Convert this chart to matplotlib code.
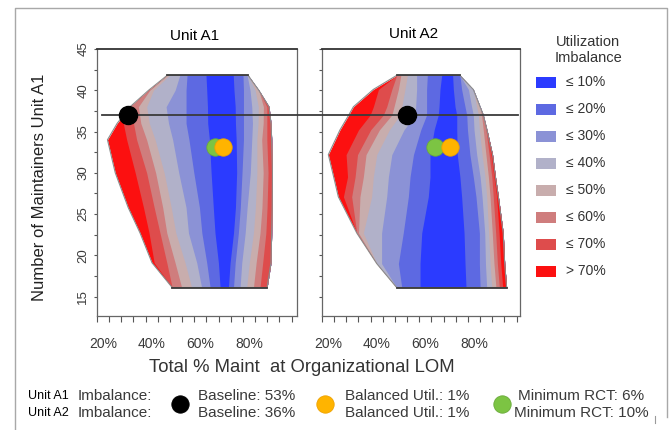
"""
Utilization imbalance contour panels for Unit A1 / Unit A2.
Band edges were read off the original picture row by row.
"""
import numpy as np
import matplotlib.pyplot as plt
from matplotlib.lines import Line2D
from matplotlib.patches import Rectangle
from matplotlib.ticker import FixedLocator

plt.rcParams["font.family"] = ["Liberation Sans", "DejaVu Sans"]

# imbalance classes, blue (balanced) -> red
LEVEL_LABELS = ["\u2264 10%", "\u2264 20%", "\u2264 30%", "\u2264 40%",
                "\u2264 50%", "\u2264 60%", "\u2264 70%", "> 70%"]
LEVEL_COLORS = ["#2b3bff", "#5d69e2", "#8b92d6", "#b1b1c9",
                "#c8adad", "#cf7d7d", "#de4c4c", "#fc1010"]
# class of each band from left hull edge to right hull edge
BAND_CLASS = [7, 6, 5, 4, 3, 2, 1, 0, 1, 2, 3, 4, 5, 6, 7]

# Unit A1: number of maintainers (rows) and band edges (% maint) per row
# columns: hull left, 14 class boundaries, hull right
A1_Y = [16.1, 19.1, 22.7, 25.8, 30.0, 34.0, 36.0, 38.0, 40.0, 41.8]
A1_EDGES = [
    [48.4, 48.4, 48.4, 52.3, 56.4, 60.5, 64.0, 68.1, 71.5, 73.6, 76.3, 79.0, 81.8, 84.5, 87.4, 87.4],
    [40.1, 41.0, 46.2, 49.6, 53.7, 58.5, 62.6, 67.4, 72.2, 74.3, 77.0, 80.1, 82.9, 85.6, 89.0, 89.0],
    [35.2, 38.9, 43.4, 46.2, 49.9, 55.1, 60.6, 66.0, 73.6, 75.6, 78.4, 81.8, 84.5, 86.9, 89.3, 89.3],
    [30.3, 36.6, 41.0, 44.5, 48.0, 54.1, 59.6, 65.3, 74.4, 76.4, 79.2, 82.6, 85.3, 87.4, 89.5, 89.5],
    [25.0, 33.2, 37.9, 41.6, 45.1, 51.1, 57.3, 64.4, 74.9, 77.1, 80.5, 83.2, 85.8, 87.8, 89.6, 89.6],
    [21.8, 29.7, 33.8, 37.9, 41.4, 48.6, 55.3, 63.7, 74.7, 77.7, 81.1, 83.2, 85.2, 87.3, 89.3, 89.3],
    [25.8, 28.3, 32.5, 35.5, 39.0, 46.9, 54.1, 63.0, 74.4, 77.7, 81.4, 83.7, 85.8, 87.3, 89.0, 89.0],
    [31.1, 31.1, 31.1, 34.5, 37.9, 45.9, 54.1, 62.9, 74.3, 77.7, 81.1, 83.8, 85.9, 87.3, 88.2, 88.2],
    [38.7, 38.7, 38.7, 39.2, 40.7, 49.6, 54.1, 62.6, 73.8, 77.7, 80.4, 82.5, 84.0, 84.0, 84.0, 84.0],
    [46.3, 46.3, 46.3, 46.3, 47.2, 51.5, 54.5, 62.3, 73.5, 77.5, 79.2, 79.6, 79.6, 79.6, 79.6, 79.6],
]

# Unit A2
A2_Y = [16.1, 19.0, 22.7, 27.1, 29.5, 32.2, 35.2, 37.0, 38.0, 40.1, 41.8]
A2_EDGES = [
    [48.2, 48.2, 48.2, 48.2, 48.2, 48.2, 50.3, 57.8, 76.7, 82.5, 85.2, 87.3, 89.0, 90.4, 91.8, 93.4],
    [40.0, 40.0, 40.0, 40.0, 40.0, 42.0, 48.9, 57.8, 76.3, 82.2, 84.7, 86.6, 88.2, 89.6, 91.0, 92.6],
    [31.8, 31.8, 31.8, 32.5, 34.5, 42.0, 50.9, 58.5, 75.9, 82.2, 84.4, 86.0, 87.5, 88.9, 90.3, 92.0],
    [24.2, 26.3, 29.7, 33.1, 37.9, 44.1, 53.0, 61.2, 74.9, 80.8, 83.3, 85.2, 86.6, 87.9, 89.3, 90.0],
    [22.3, 28.0, 31.1, 34.5, 38.6, 44.8, 53.7, 61.9, 74.2, 79.7, 82.5, 84.5, 85.9, 87.3, 88.2, 88.8],
    [20.1, 27.4, 32.1, 35.6, 40.0, 46.2, 55.1, 61.9, 73.1, 78.3, 81.1, 83.3, 84.9, 86.2, 87.0, 87.6],
    [24.9, 32.5, 37.5, 41.1, 45.2, 51.2, 58.1, 63.6, 72.9, 77.3, 80.0, 82.2, 83.8, 84.9, 85.3, 85.3],
    [28.5, 37.3, 42.7, 46.2, 49.6, 55.8, 60.5, 65.3, 72.9, 77.0, 79.7, 81.8, 83.1, 83.8, 83.8, 83.8],
    [30.4, 38.6, 44.1, 47.1, 50.3, 56.0, 60.5, 65.6, 72.2, 76.3, 79.0, 81.1, 82.5, 82.5, 82.5, 82.5],
    [38.6, 40.7, 46.2, 48.9, 51.6, 56.4, 60.5, 66.0, 71.5, 74.9, 77.7, 79.7, 79.7, 79.7, 79.7, 79.7],
    [48.2, 48.2, 48.2, 49.9, 52.6, 56.4, 60.8, 66.7, 71.2, 74.2, 74.2, 74.2, 74.2, 74.2, 74.2, 74.2],
]

# scenario points (% maint, maintainers)
A1_BASELINE = (30.3, 37.0)
A1_BALANCED = (69.2, 33.1)
A1_MIN_RCT = (66.0, 33.1)
A2_BASELINE = (52.6, 37.0)
A2_BALANCED = (70.1, 33.1)
A2_MIN_RCT = (64.0, 33.1)

REF_Y = 37.0           # baseline maintainers line
REF_X = (19.5, 98.1)   # start in A1, end in A2

UNITS = ["Unit A1", "Unit A2"]
BASELINE_IMB = [53, 36]
BALANCED_IMB = [1, 1]
MIN_RCT_IMB = [6, 10]

X_LABELS = [20, 40, 60, 80]

BLACK, ORANGE, GREEN = "#000000", "#ffb400", "#7cc443"
TXT = "#3a3a3a"

W, H = 671, 430


def fx(px):
    return px / W


def fy(py):
    return 1 - py / H


def draw_panel(ax, ys, edges, points, xlim):
    ys = np.asarray(ys)
    e = np.asarray(edges)
    right = e[:, -1]
    # paint bands left to right, each one over the rest of the hull
    for k, cls in enumerate(BAND_CLASS):
        ax.fill_betweenx(ys, e[:, k], right, color=LEVEL_COLORS[cls], lw=0, zorder=1)
    hx = np.concatenate([e[:, 0], right[::-1], e[:1, 0]])
    hy = np.concatenate([ys, ys[::-1], ys[:1]])
    ax.plot(hx, hy, color="#8c8c8c", lw=0.8, zorder=2)
    for i in (0, -1):
        ax.plot([e[i, 0], e[i, -1]], [ys[i], ys[i]], color="#3a3a3a", lw=1.3, zorder=2)

    base, bal, rct = points
    ax.plot(*rct, "o", ms=12.5, color=GREEN, mec="#6aaa3a", mew=0.6, zorder=5)
    ax.plot(*bal, "o", ms=12.5, color=ORANGE, mec="#eea200", mew=0.6, zorder=6)
    ax.plot(*base, "o", ms=13, color=BLACK, zorder=7)

    ax.set_xlim(*xlim)
    ax.set_ylim(12.65, 45)
    ax.xaxis.set_major_locator(FixedLocator(X_LABELS))
    ax.set_xticklabels([f"{v}%" for v in X_LABELS])
    ax.xaxis.set_minor_locator(FixedLocator(np.arange(17.5, xlim[1], 5)))
    ax.yaxis.set_major_locator(FixedLocator(np.arange(15, 46, 5)))
    ax.yaxis.set_minor_locator(FixedLocator(np.arange(17.5, 45, 5)))
    ax.tick_params(axis="x", which="major", length=0, pad=15, labelsize=10, labelcolor=TXT)
    ax.tick_params(axis="x", which="minor", length=4.5, width=0.8, color="#555555")
    ax.tick_params(axis="y", which="both", length=2.5, width=0.8, color="#555555",
                   labelsize=9.5, labelcolor=TXT, pad=3)
    for lab in ax.get_yticklabels():
        lab.set_rotation(90)
        lab.set_va("center")
    for side, sp in ax.spines.items():
        sp.set_color("#333333" if side == "top" else "#666666")
        sp.set_linewidth(1.3 if side == "top" else 0.9)


fig = plt.figure(figsize=(W / 100, H / 100), dpi=100)

# outer frame of the slide
fig.add_artist(Line2D([fx(15), fx(15), fx(667), fx(667)],
                      [fy(432), fy(8), fy(8), fy(417)],
                      transform=fig.transFigure, color="#a8a8a8", lw=1.0))
fig.add_artist(Line2D([fx(655), fx(655)], [fy(416), fy(423)],
                      transform=fig.transFigure, color="#9a9a9a", lw=0.8))

ax1 = fig.add_axes([fx(97), fy(316), 200 / W, 267 / H])
ax2 = fig.add_axes([fx(322), fy(316), 198 / W, 267 / H])

draw_panel(ax1, A1_Y, A1_EDGES, (A1_BASELINE, A1_BALANCED, A1_MIN_RCT), (17.5, 99.7))
draw_panel(ax2, A2_Y, A2_EDGES, (A2_BASELINE, A2_BALANCED, A2_MIN_RCT), (17.5, 98.9))
ax2.tick_params(axis="y", labelleft=False)

# baseline line running across both panels
x_gap = ax1.transData.inverted().transform(ax2.transData.transform((ax2.get_xlim()[0], REF_Y)))[0]
ax1.plot([REF_X[0], x_gap], [REF_Y, REF_Y], color="#3a3a3a", lw=1.3, zorder=4, clip_on=False)
ax2.plot([ax2.get_xlim()[0], REF_X[1]], [REF_Y, REF_Y], color="#3a3a3a", lw=1.3, zorder=4)

ax1.set_ylabel("Number of Maintainers Unit A1", fontsize=12, va="center", color="#222222")
ax1.yaxis.set_label_coords((40 - 97) / 200, (316 - 187.5) / 267)

fig.text(fx(194.5), fy(35.5), "Unit A1", ha="center", va="center", fontsize=11)
fig.text(fx(414), fy(33.5), "Unit A2", ha="center", va="center", fontsize=11)
fig.text(fx(302), fy(368), "Total % Maint  at Organizational LOM",
         ha="center", va="center", fontsize=13.3, color="#333333")

# colour key
fig.text(fx(588), fy(50), "Utilization\nImbalance", ha="center", va="center",
         fontsize=10.5, linespacing=1.2, color="#333333")
for i, (lab, col) in enumerate(zip(LEVEL_LABELS, LEVEL_COLORS)):
    yc = 82 + i * 27
    fig.add_artist(Rectangle((fx(536), fy(yc + 5.5)), 20 / W, 11 / H,
                             transform=fig.transFigure, facecolor=col, edgecolor="none"))
    fig.text(fx(566), fy(yc), lab, ha="left", va="center", fontsize=10, color="#333333")

# scenario key along the bottom
rows = [396, 413]
for i, unit in enumerate(UNITS):
    yy = fy(rows[i])
    fig.text(fx(28), yy, unit, ha="left", va="center", fontsize=9)
    fig.text(fx(78), yy, "Imbalance:", ha="left", va="center", fontsize=11, color=TXT)
    fig.text(fx(247), yy, f"Baseline: {BASELINE_IMB[i]}%", ha="center", va="center",
             fontsize=11, color=TXT)
    fig.text(fx(407), yy, f"Balanced Util.: {BALANCED_IMB[i]}%", ha="center", va="center",
             fontsize=11, color=TXT)
    fig.text(fx(581), yy, f"Minimum RCT: {MIN_RCT_IMB[i]}%", ha="center", va="center",
             fontsize=11, color=TXT)

for px, col, mec in [(180, BLACK, BLACK), (325, ORANGE, "#eea200"), (502, GREEN, "#6aaa3a")]:
    fig.add_artist(Line2D([fx(px)], [fy(404)], marker="o", ms=12.5, color=col, mec=mec,
                          mew=0.6, transform=fig.transFigure))

fig.savefig("out.png", dpi=100)
